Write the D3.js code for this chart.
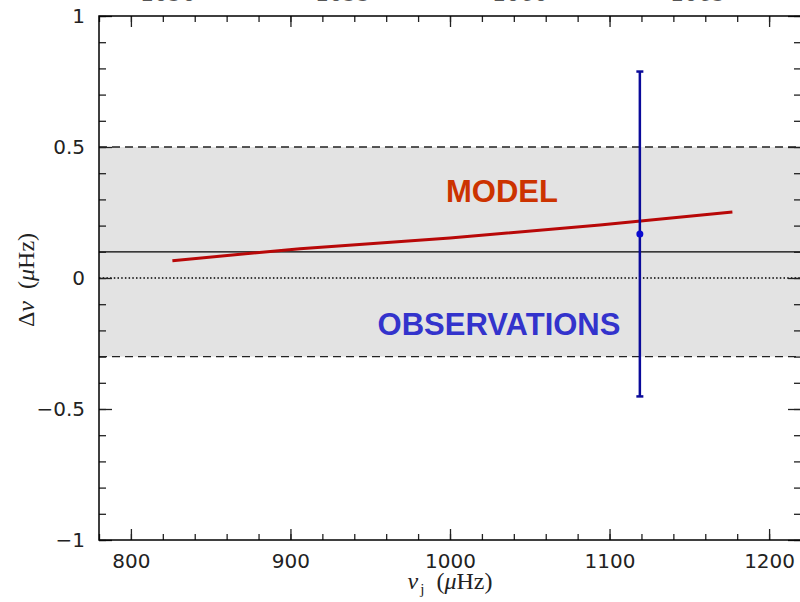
<!DOCTYPE html>
<html>
<head>
<meta charset="utf-8">
<script src="https://cdn.jsdelivr.net/npm/d3@7"></script>
<style>
  body { margin: 0; background: #fff; }
  svg { display: block; }
</style>
</head>
<body>
<div id="chart"></div>
<script>
// Data
var modelFreq = [826, 906, 1000, 1094, 1177];
var modelDelta = [0.066, 0.112, 0.153, 0.202, 0.252];

var obsFreq = [1119];
var obsDelta = [0.168];
var obsError = [0.62];

var bandLimits = [-0.3, 0.5];   // shaded band (dashed edges)
var refLevel = 0.1;             // solid reference line
var zeroLevel = 0;              // dotted line

var xTicks = [800, 900, 1000, 1100, 1200];
var yTicks = [-1, -0.5, 0, 0.5, 1];
var yTickLabels = ["\u22121", "\u22120.5", "0", "0.5", "1"];

// cut-off labels of the panel above
var topLabels = ["1050", "1055", "1060", "1065"];
var topLabelPos = [168, 343, 520, 698];

// SVG area
var svgWidth = 800;
var svgHeight = 602;

var margin = { top: 16, right: -1, bottom: 62, left: 99 };
var width = svgWidth - margin.left - margin.right;
var height = svgHeight - margin.top - margin.bottom;

var svg = d3.select("#chart")
  .append("svg")
  .attr("width", svgWidth)
  .attr("height", svgHeight);

// labels of the panel above, almost entirely off the top edge
svg.selectAll(".toplabel")
  .data(topLabels)
  .enter()
  .append("text")
  .attr("class", "toplabel")
  .attr("x", (d, i) => topLabelPos[i])
  .attr("y", 0.5)
  .attr("text-anchor", "middle")
  .style("font-family", "DejaVu Sans")
  .style("font-size", "22px")
  .style("fill", "#555")
  .text(d => d);

var chartGroup = svg.append("g")
  .attr("transform", `translate(${margin.left}, ${margin.top})`);

var x = d3.scaleLinear().domain([780, 1220]).range([0, width]);
var y = d3.scaleLinear().domain([-1, 1]).range([height, 0]);

// shaded band
chartGroup.append("rect")
  .attr("x", 0)
  .attr("y", y(bandLimits[1]))
  .attr("width", width)
  .attr("height", y(bandLimits[0]) - y(bandLimits[1]))
  .style("fill", "#e3e3e3");

// dashed edges of the band
chartGroup.selectAll(".bandedge")
  .data(bandLimits)
  .enter()
  .append("line")
  .attr("class", "bandedge")
  .attr("x1", 0)
  .attr("x2", width)
  .attr("y1", d => y(d))
  .attr("y2", d => y(d))
  .style("stroke", "#222")
  .style("stroke-width", 1.3)
  .style("stroke-dasharray", "8,5");

// dotted zero line
chartGroup.append("line")
  .attr("x1", 0)
  .attr("x2", width)
  .attr("y1", y(zeroLevel))
  .attr("y2", y(zeroLevel))
  .style("stroke", "#000")
  .style("stroke-width", 1.3)
  .style("stroke-dasharray", "1.5,2.2");

// solid reference line
chartGroup.append("line")
  .attr("x1", 0)
  .attr("x2", width)
  .attr("y1", y(refLevel))
  .attr("y2", y(refLevel))
  .style("stroke", "#000")
  .style("stroke-width", 1.3);

// axes (ticks inside, mirrored on all four sides)
var xMinor = d3.range(780, 1221, 20);
var yMinor = d3.range(-1, 1.001, 0.1);

function tickGroup(axis, cls) {
  return chartGroup.append("g").attr("class", cls).call(axis)
    .call(g => g.select(".domain").remove());
}

tickGroup(d3.axisBottom(x).tickValues(xMinor).tickSize(-6).tickFormat(""), "xminor")
  .attr("transform", `translate(0, ${height})`);
tickGroup(d3.axisBottom(x).tickValues(xTicks).tickSize(-11).tickPadding(14)
  .tickFormat(d => d), "xmajor")
  .attr("transform", `translate(0, ${height})`);
tickGroup(d3.axisTop(x).tickValues(xMinor).tickSize(-6).tickFormat(""), "xminor");
tickGroup(d3.axisTop(x).tickValues(xTicks).tickSize(-11).tickFormat(""), "xmajor");

tickGroup(d3.axisLeft(y).tickValues(yMinor).tickSize(-7).tickFormat(""), "yminor");
tickGroup(d3.axisLeft(y).tickValues(yTicks).tickSize(-13).tickPadding(14)
  .tickFormat((d, i) => yTickLabels[i]), "ymajor");
tickGroup(d3.axisRight(y).tickValues(yMinor).tickSize(-7).tickFormat(""), "yminor")
  .attr("transform", `translate(${width}, 0)`);
tickGroup(d3.axisRight(y).tickValues(yTicks).tickSize(-13).tickFormat(""), "ymajor")
  .attr("transform", `translate(${width}, 0)`);

chartGroup.selectAll(".tick line")
  .style("stroke", "#222")
  .style("stroke-width", 1.3);
chartGroup.selectAll(".tick text")
  .style("font-family", "DejaVu Sans")
  .style("font-size", "20px")
  .style("fill", "#222");
chartGroup.selectAll(".ymajor .tick text").attr("x", -14);

// frame
chartGroup.append("rect")
  .attr("x", 0)
  .attr("y", 0)
  .attr("width", width)
  .attr("height", height)
  .style("fill", "none")
  .style("stroke", "#000")
  .style("stroke-width", 1.5);

// model curve
var line = d3.line()
  .x(d => x(d[0]))
  .y(d => y(d[1]));

chartGroup.append("path")
  .datum(modelFreq.map((f, i) => [f, modelDelta[i]]))
  .attr("d", line)
  .style("fill", "none")
  .style("stroke", "#b80808")
  .style("stroke-width", 3);

// observation with error bar
var obs = obsFreq.map((f, i) => ({ f: f, d: obsDelta[i], e: obsError[i] }));

chartGroup.selectAll(".errbar")
  .data(obs)
  .enter()
  .append("line")
  .attr("class", "errbar")
  .attr("x1", d => x(d.f))
  .attr("x2", d => x(d.f))
  .attr("y1", d => y(d.d + d.e))
  .attr("y2", d => y(d.d - d.e))
  .style("stroke", "#0a0a9a")
  .style("stroke-width", 2.5);

obs.forEach(function(d) {
  [d.d + d.e, d.d - d.e].forEach(function(v) {
    chartGroup.append("line")
      .attr("x1", x(d.f) - 3.5)
      .attr("x2", x(d.f) + 3.5)
      .attr("y1", y(v))
      .attr("y2", y(v))
      .style("stroke", "#0a0a9a")
      .style("stroke-width", 2.5);
  });
});

chartGroup.selectAll(".obsdot")
  .data(obs)
  .enter()
  .append("circle")
  .attr("class", "obsdot")
  .attr("cx", d => x(d.f))
  .attr("cy", d => y(d.d))
  .attr("r", 3.5)
  .style("fill", "#0a0ad0");

// labels inside the plot
chartGroup.append("text")
  .attr("x", 403)
  .attr("y", 186)
  .attr("text-anchor", "middle")
  .style("font-family", "Liberation Sans")
  .style("font-weight", "bold")
  .style("font-size", "31px")
  .style("fill", "#cc3300")
  .text("MODEL");

chartGroup.append("text")
  .attr("x", 400)
  .attr("y", 319)
  .attr("text-anchor", "middle")
  .style("font-family", "Liberation Sans")
  .style("font-weight", "bold")
  .style("font-size", "31px")
  .style("fill", "#3333cc")
  .text("OBSERVATIONS");

// axis titles
var xTitle = svg.append("text")
  .attr("x", 450)
  .attr("y", 589)
  .attr("text-anchor", "middle")
  .style("font-family", "Liberation Serif")
  .style("font-size", "24px")
  .style("fill", "#222");
xTitle.append("tspan").style("font-style", "italic").text("\u03bd");
xTitle.append("tspan").attr("dx", 2).attr("dy", 5).style("font-size", "15px").text("j");
xTitle.append("tspan").attr("dx", 12).attr("dy", -5).text("(");
xTitle.append("tspan").style("font-style", "italic").text("\u03bc");
xTitle.append("tspan").text("Hz)");

var yTitle = svg.append("text")
  .attr("transform", "translate(34, 280) rotate(-90)")
  .attr("text-anchor", "middle")
  .style("font-family", "Liberation Serif")
  .style("font-size", "24px")
  .style("fill", "#222");
yTitle.append("tspan").text("\u0394");
yTitle.append("tspan").style("font-style", "italic").text("\u03bd");
yTitle.append("tspan").attr("dx", 12).text("(");
yTitle.append("tspan").style("font-style", "italic").text("\u03bc");
yTitle.append("tspan").text("Hz)");
</script>
</body>
</html>
